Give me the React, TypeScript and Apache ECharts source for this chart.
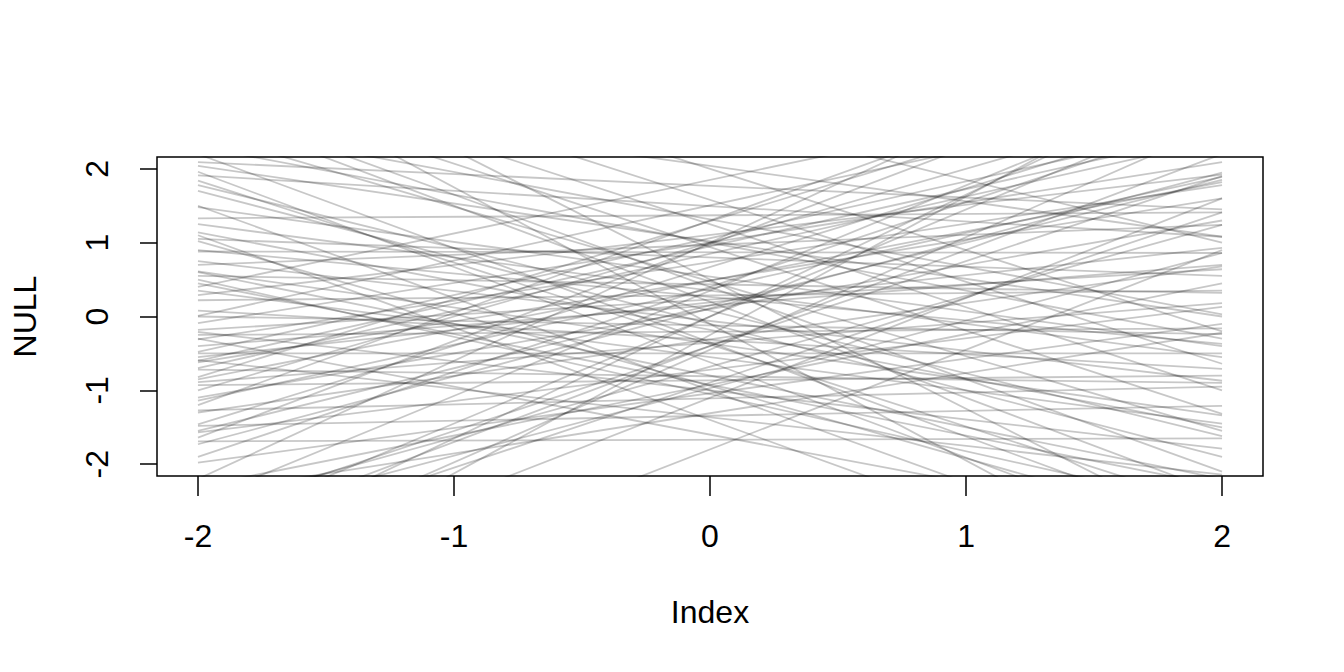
import React, { useEffect, useRef } from "react";
import * as echarts from "echarts";

// Each prior line runs from x = -2 to x = 2; values are the y at x=-2 and at x=2.
const xEnds = [-2, 2];
const leftY = [
  2.09, 2.04, 1.96, 1.91, 1.84, 1.78, 1.48, 1.33, 1.14, 1.05, 1.02, 0.88, 0.75, 0.7, 0.61, 0.55,
  0.45, 0.29, 0.22, 0.08, 0.01, 0.0, -0.09, -0.18, -0.21, -0.25, -0.31, -0.48, -0.5, -0.55, -0.59,
  -0.62, -0.72, -0.82, -0.85, -0.89, -0.93, -1.14, -1.27, -1.3, -1.46, -1.48, -1.55, -1.57, -1.64,
  -1.69, -1.73, -1.98, 3.2, 2.9, 3.8, 2.6, 4.0, 2.5, 3.0, -3.0, -2.6, -3.5, -2.8, -4.0, -2.4, -3.2,
  -2.5, 0.9, 1.7, 0.35, -0.4, -1.1, 1.25, -0.7, 0.6, -1.9, 2.3, -2.3,
  2.8, 3.5, -2.9, -3.8, 4.2, -1.2, 1.5, -0.3, 0.4, -4.5, 3.6, -2.2, 1.1, -1.0, 2.2, -0.6, 0.5,
  -3.3, 4.4, -2.7,
];
const rightY = [
  1.45, 0.0, -3.2, 1.08, -2.6, -1.62, -0.4, 1.41, -1.5, 0.55, -2.9, 0.86, -0.87, 1.24, -1.34, 0.32,
  -2.3, 1.92, 0.35, -0.71, 3.0, -0.24, 2.09, 0.64, -1.79, -0.16, 1.78, 2.6, -0.5, 0.93, -2.14, 1.6,
  -0.9, 3.4, 1.82, 0.18, -0.8, 1.89, -0.95, 0.68, 2.8, -1.21, 1.85, 0.13, 3.6, -1.65, 1.95, -0.1,
  -1.32, -2.1, -0.64, 0.03, -3.0, -1.55, 1.08, 2.2, 1.24, 2.6, 0.86, 3.5, -0.22, 1.41, 3.2, -0.37,
  -1.9, -1.45, 0.7, 1.3, -0.55, 2.4, -2.2, 2.7, -0.3, 0.45,
  -2.4, -1.0, 2.9, 1.6, -0.2, 3.8, -3.5, -2.9, 3.3, 0.9, -3.8, 4.2, -3.9, 3.0, -2.9, 2.5, -2.6,
  3.3, 1.0, 1.9,
];
const tickValues = [-2, -1, 0, 1, 2];
const xTitle = "Index";
const yTitle = "NULL";

export default function App() {
  const ref = useRef<HTMLDivElement>(null);
  useEffect(() => {
    if (!ref.current) return;
    const chart = echarts.init(ref.current, null, { renderer: "svg" });
    const font = "Liberation Sans, Arial, Helvetica, sans-serif";
    const series = leftY.map((l, i) => ({
      type: "line" as const,
      data: [
        [xEnds[0], l],
        [xEnds[1], rightY[i]],
      ],
      symbol: "none",
      clip: true,
      silent: true,
      lineStyle: { color: "rgba(0,0,0,0.22)", width: 1.8 },
    }));
    chart.setOption({
      animation: false,
      backgroundColor: "#ffffff",
      grid: {
        left: 157,
        right: 81,
        top: 157,
        bottom: 196,
        show: true,
        borderColor: "#000",
        borderWidth: 1.5,
        backgroundColor: "transparent",
        containLabel: false,
        outerBoundsMode: "none",
      },
      xAxis: {
        type: "value",
        min: -2.16,
        max: 2.16,
        axisLine: { show: false, onZero: false },
        splitLine: { show: false },
        axisTick: {
          show: true,
          customValues: tickValues,
          length: 20,
          lineStyle: { color: "#000", width: 1.5 },
        },
        axisLabel: {
          customValues: tickValues,
          margin: 44,
          fontSize: 32,
          color: "#000",
          fontFamily: font,
        },
        name: xTitle,
        nameLocation: "middle",
        nameGap: 120,
        nameTextStyle: { fontSize: 32, color: "#000", fontFamily: font },
      },
      yAxis: {
        type: "value",
        min: -2.16,
        max: 2.16,
        axisLine: { show: false, onZero: false },
        splitLine: { show: false },
        axisTick: {
          show: true,
          customValues: tickValues,
          length: 17,
          lineStyle: { color: "#000", width: 1.5 },
        },
        axisLabel: {
          customValues: tickValues,
          rotate: 90,
          margin: 44,
          fontSize: 32,
          color: "#000",
          fontFamily: font,
        },
        name: yTitle,
        nameLocation: "middle",
        nameGap: 116,
        nameRotate: 90,
        nameTextStyle: { fontSize: 32, color: "#000", fontFamily: font },
      },
      series,
    });
    return () => chart.dispose();
  }, []);
  return (
    <div
      ref={ref}
      style={{ position: "fixed", left: 0, top: 0, width: 1344, height: 672, background: "#fff" }}
    />
  );
}
